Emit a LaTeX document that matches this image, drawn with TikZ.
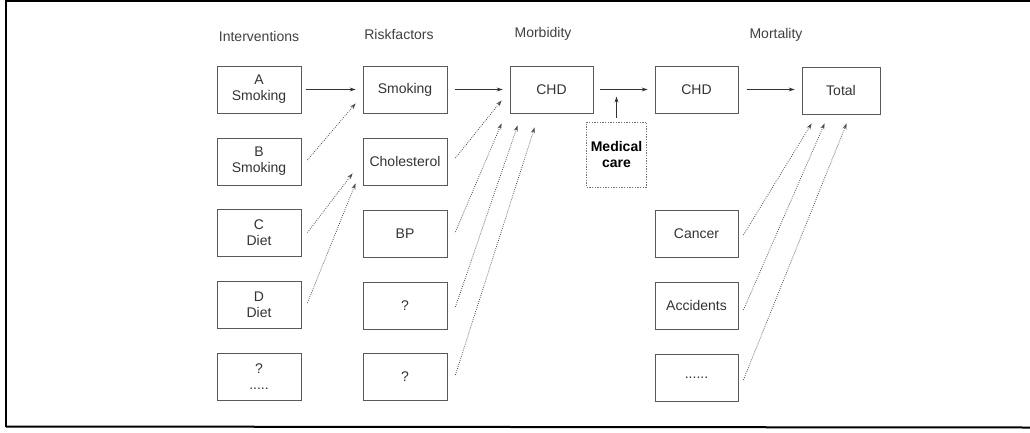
\documentclass[tikz,border=0pt]{standalone}
\usepackage{fontspec}
\setmainfont{Liberation Sans}
\usetikzlibrary{arrows.meta,calc}
\begin{document}
\begin{tikzpicture}[x=0.75pt,y=-0.75pt,
  every node/.style={font=\fontsize{10.5}{12}\selectfont,text=black!80},
  box/.style={draw=black!65,line width=0.6pt,minimum width=63pt,minimum height=35.25pt,inner sep=0pt,align=center},
  medbox/.style={draw=black!55,line width=0.5pt,dash pattern=on 1pt off 1pt,minimum width=45pt,minimum height=48.75pt,inner sep=0pt,align=center,font=\fontsize{10.5}{12}\selectfont\bfseries,text=black},
  hdr/.style={text=black!75},
  solidarr/.style={draw=black!80,line width=0.6pt,-{Stealth[length=4.5pt,width=3pt]}},
  dotarr/.style={draw=black!70,line width=0.6pt,densely dotted,-{Stealth[length=4.5pt,width=3pt]}}
]
\useasboundingbox (0,0) rectangle (1030,432);
% frame
\draw[line width=0.8pt] (1030,1) -- (6,1) -- (6,426.5);
\draw[line width=1.5pt] (6,426.5) -- (1030,427.5);

% headers
\node[hdr] (h1) at (259,36) {Interventions};
\node[hdr] (h2) at (399,34) {Riskfactors};
\node[hdr] (h3) at (543,34) {Morbidity};
\node[hdr] (h4) at (776,35) {Mortality};

% interventions
\node[box] (iA) at (259,89.5) {A\\Smoking};
\node[box] (iB) at (259,161.5) {B\\Smoking};
\node[box] (iC) at (259,232.5) {C\\Diet};
\node[box] (iD) at (259,304.5) {D\\Diet};
\node[box] (iE) at (259,376.5) {?\\.....};

% riskfactors
\node[box] (rS) at (405,89.5) {Smoking};
\node[box] (rC) at (405,161.5) {Cholesterol};
\node[box] (rB) at (405,233.5) {BP};
\node[box] (rQ1) at (405,305.5) {?};
\node[box] (rQ2) at (405,377) {?};

% morbidity
\node[box,minimum width=62.25pt] (mCHD) at (551.5,89.5) {CHD};
\node[medbox] (med) at (616.5,154.5) {Medical\\care};

% mortality
\node[box,minimum width=62.25pt] (tCHD) at (696.5,89.5) {CHD};
\node[box,minimum width=58.5pt] (tot) at (841,90.5) {Total};
\node[box,minimum width=62.25pt] (can) at (696.5,234) {Cancer};
\node[box,minimum width=62.25pt] (acc) at (696.5,305.5) {Accidents};
\node[box,minimum width=62.25pt] (dots) at (696.5,378) {......};

\coordinate (medtip) at ($(med.north)+(0,-25)$);

% solid arrows
\draw[solidarr] ($(iA.east)+(5,0)$) -- ($(rS.west)+(-7,0)$);
\draw[solidarr] ($(rS.east)+(8,0)$) -- ($(mCHD.west)+(-7,0)$);
\draw[solidarr] ($(mCHD.east)+(7,0)$) -- ($(tCHD.west)+(-7,0)$);
\draw[solidarr] ($(tCHD.east)+(9,0)$) -- ($(tot.west)+(-7,-1)$);
\draw[solidarr] ($(med.north)+(0,-4)$) -- (medtip);

% dotted arrows
\draw[dotarr] ($(iB.east)+(6,-1.5)$) -- ($(rS.south west)+(-7,-10)$);
\draw[dotarr] ($(iC.east)+(6,0)$) -- ($(rC.south west)+(-10,-12)$);
\draw[dotarr] ($(iD.east)+(6,-1.5)$) -- ($(rC.south west)+(-7,-2)$);
\draw[dotarr] ($(rC.east)+(8,-3.5)$) -- ($(mCHD.south west)+(-8,-13)$);
\draw[dotarr] ($(rB.east)+(8,-1.5)$) -- ($(mCHD.south west)+(-8,10)$);
\draw[dotarr] ($(rQ1.east)+(8,1.5)$) -- ($(mCHD.south west)+(8,12)$);
\draw[dotarr] ($(rQ2.east)+(8,-2)$) -- ($(mCHD.south west)+(25,14)$);
\draw[dotarr] ($(can.east)+(5,1)$) -- ($(tot.south west)+(10,9)$);
\draw[dotarr] ($(acc.east)+(5,4.5)$) -- ($(tot.south west)+(23,9)$);
\draw[dotarr] ($(dots.east)+(5,2)$) -- ($(tot.south west)+(45,9)$);
\end{tikzpicture}
\end{document}
